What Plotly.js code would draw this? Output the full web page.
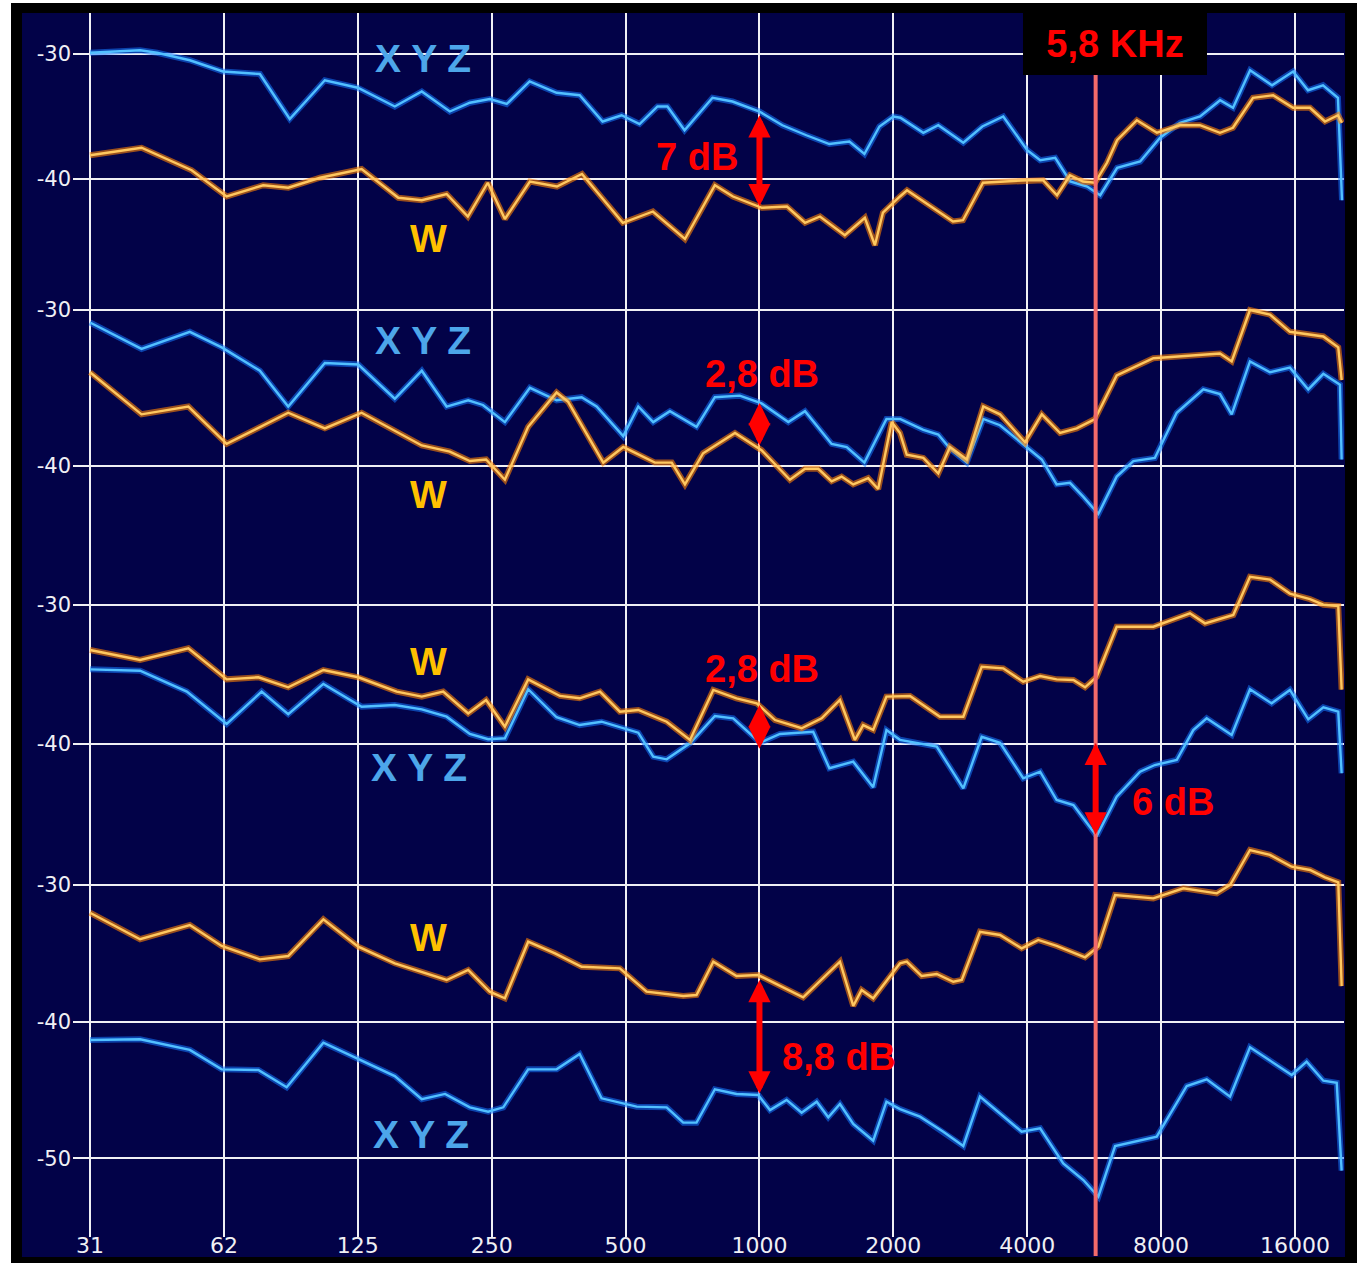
<!DOCTYPE html>
<html><head><meta charset="utf-8">
<script src="https://cdn.plot.ly/plotly-3.0.1.min.js"></script>
<style>html,body{margin:0;padding:0;background:#fff;}#chart{width:1361px;height:1264px;}</style>
</head><body><div id="chart"></div>
<script>
// ---------- DATA (frequency in Hz, level in dB) ----------
// Panel 1
const freqXYZ1 = [31.25,40.5,44.2,52.4,62.2,75.3,87.9,105.4,125,151.4,174.1,201.3,223.3,247.5,270.2,304.3,349.9,394.2,444,489.8,537.6,590,621,678.6,784.3,869.7,1000,1126,1275,1436,1593,1722,1861,2000,2074,2336,2524,2873,3170,3533,4000,4278,4624,4996,5456,5836,6372,7177,7959,8827,9787,10857,11609,12680,14208,15840,17114,18496,19984,20405];
const dbXYZ1 = [-29.9,-29.7,-29.9,-30.5,-31.4,-31.6,-35.2,-32.1,-32.7,-34.2,-33.0,-34.6,-33.9,-33.6,-34.0,-32.2,-33.1,-33.3,-35.4,-34.9,-35.6,-34.2,-34.2,-36.1,-33.5,-33.8,-34.6,-35.7,-36.5,-37.2,-37.0,-38.0,-35.8,-35.0,-35.1,-36.3,-35.7,-37.1,-35.8,-35.0,-37.7,-38.5,-38.3,-40.2,-40.6,-41.3,-39.1,-38.6,-36.7,-35.5,-35.0,-33.7,-34.3,-31.3,-32.5,-31.4,-32.9,-32.5,-33.5,-41.7];
const freqW1 = [31.25,40.8,52.9,63.4,76.6,87.2,102.8,127.5,154.2,174.1,198,221,245,267.7,304.7,350.5,399,493,576,680,794,872,1013,1153,1266,1368,1556,1726,1818,1895,2070,2147,2724,2868,3181,4000,4341,4667,4991,5339,5680,6045,6369,7057,7829,8820,9780,10850,11602,12873,14283,15840,17291,18686,19984,20405];
const dbW1 = [-38.1,-37.5,-39.3,-41.4,-40.5,-40.7,-39.9,-39.2,-41.5,-41.7,-41.2,-43.0,-40.3,-43.2,-40.2,-40.6,-39.6,-43.5,-42.6,-44.8,-40.5,-41.4,-42.3,-42.2,-43.5,-43.0,-44.5,-43.1,-45.3,-42.7,-41.4,-40.9,-43.4,-43.3,-40.3,-40.1,-40.1,-41.3,-39.7,-40.2,-40.3,-38.7,-36.9,-35.3,-36.3,-35.7,-35.7,-36.3,-35.9,-33.5,-33.3,-34.3,-34.3,-35.4,-34.9,-35.5];
// Panel 2
const freqXYZ2 = [31.25,40.8,52.4,61.8,75.3,87.2,105.4,125.3,151.4,174.1,198,221.4,238.9,267.7,304.7,349.9,398.3,430.4,494,534,577,629,722,794,903,1011,1161,1266,1453,1571,1722,1930,2070,2336,2524,2682,2925,3186,3474,3990,4313,4658,4991,5349,5780,6356,6928,7743,8673,9953,10850,11528,12672,14056,15584,17136,18528,20192,20368];
const dbXYZ2 = [-30.8,-32.5,-31.4,-32.4,-33.9,-36.2,-33.4,-33.5,-35.7,-33.9,-36.2,-35.8,-36.1,-37.2,-35.0,-35.8,-35.6,-36.2,-38.1,-36.2,-37.2,-36.5,-37.5,-35.6,-35.5,-36.0,-37.2,-36.5,-38.6,-38.8,-39.8,-37.0,-37.0,-37.7,-38.0,-38.9,-39.8,-37.0,-37.4,-38.8,-39.6,-41.2,-41.1,-42.0,-43.1,-40.7,-39.7,-39.5,-36.6,-35.1,-35.4,-36.7,-33.3,-34.0,-33.7,-35.1,-34.1,-34.8,-39.6];
const freqW2 = [31.25,40.8,52.0,63.4,87.2,105.4,127.5,174.1,201.3,223.3,242.9,267.7,302,349.9,371.5,445.5,494,582,635,680,747,881,1011,1171,1266,1356,1453,1530,1625,1756,1849,1983,2070,2144,2336,2524,2682,2925,3186,3474,3954,4313,4741,5167,5680,6356,7685,10850,11528,12672,14056,15584,18528,20016,20368];
const dbW2 = [-34.0,-36.7,-36.2,-38.6,-36.6,-37.6,-36.6,-38.7,-39.1,-39.7,-39.6,-40.9,-37.5,-35.3,-35.9,-39.8,-38.8,-39.8,-39.8,-41.2,-39.2,-37.9,-39.0,-40.9,-40.2,-40.2,-41.0,-40.7,-41.2,-40.8,-41.5,-37.2,-37.9,-39.3,-39.5,-40.5,-38.8,-39.6,-36.2,-36.7,-38.5,-36.7,-37.9,-37.6,-37.0,-34.2,-33.1,-32.8,-33.3,-30.0,-30.3,-31.4,-31.7,-32.4,-34.5];
// Panel 3
const freqW3 = [31.25,40.5,52.0,63.4,74.7,87.2,104.6,125.3,152.9,174.1,194.5,221.4,242.9,267.7,302,356,394.2,438,485.5,534,618.5,698,787.5,888,986,1084,1244,1380,1517,1639,1711,1802,1930,2070,2180,2546,2873,3160,3533,3918,4276,4658,5080,5396,5732,6356,7685,9288,10040,11624,12672,14056,15584,17291,18528,20016,20368];
const dbW3 = [-33.25,-33.97,-33.13,-35.36,-35.21,-35.93,-34.69,-35.21,-36.24,-36.6,-36.24,-37.8,-36.84,-38.76,-35.36,-36.55,-36.72,-36.24,-37.68,-37.56,-38.4,-39.71,-36.12,-36.72,-37.08,-38.28,-38.87,-38.16,-36.84,-39.71,-38.64,-38.99,-36.6,-36.55,-36.55,-38.04,-38.04,-34.45,-34.57,-35.53,-35.12,-35.36,-35.41,-35.93,-35.17,-31.58,-31.58,-30.62,-31.34,-30.74,-28.0,-28.2,-29.2,-29.6,-30.0,-30.1,-36.1];
const freqXYZ3 = [31.25,40.5,51.6,63.4,76.0,87.2,104.6,127.5,151.4,174.1,198,223.3,245.5,267.7,302,349.9,394.2,441.6,534,577,618.5,698,794,873,1003,1112,1321,1436,1625,1802,1930,2070,2504,2873,3160,3474,3918,4276,4658,5080,5732,6356,7173,7743,8673,9449,10128,11528,12672,14176,15584,17136,18528,20016,20368];
const dbXYZ3 = [-34.64,-34.74,-36.24,-38.56,-36.24,-37.85,-35.69,-37.32,-37.2,-37.51,-38.04,-39.28,-39.66,-39.59,-36.07,-38.08,-38.64,-38.4,-39.19,-40.91,-41.1,-39.95,-37.99,-38.16,-39.91,-39.28,-39.12,-41.74,-41.27,-43.11,-39.0,-39.7,-40.19,-43.18,-39.48,-39.91,-42.46,-41.99,-44.02,-44.38,-46.61,-43.78,-41.99,-41.51,-41.15,-39.0,-38.16,-39.35,-36.07,-37.08,-36.12,-38.23,-37.37,-37.68,-42.1];
// Panel 4
const freqW4 = [31.25,40.5,52.4,61.8,75.3,87.2,104.6,125.3,151.4,198,221.4,247.5,267.7,302,347,398.3,485.5,557.5,674,722,787.5,888,993.5,1254,1517,1625,1697,1802,2070,2144,2316,2504,2728,2850,3132,3474,3886,4236,4658,5396,5780,6304,7685,8976,10672,11432,12672,14056,15728,17291,18686,20016,20368];
const dbW4 = [-32.03,-33.97,-32.93,-34.46,-35.44,-35.2,-32.51,-34.51,-35.73,-36.95,-36.22,-37.81,-38.29,-34.15,-35.0,-35.98,-36.1,-37.81,-38.12,-38.05,-35.61,-36.66,-36.59,-38.22,-35.61,-38.85,-37.68,-38.29,-35.73,-35.61,-36.66,-36.51,-37.08,-36.95,-33.42,-33.66,-34.63,-34.02,-34.46,-35.29,-34.51,-30.73,-30.98,-30.24,-30.61,-30.0,-27.44,-27.8,-28.66,-28.9,-29.44,-29.8,-37.4];
const freqXYZ4 = [31.25,40.5,52.4,61.8,74.7,86.5,104.6,124.3,151.4,174.1,196.4,223.3,245.5,265.5,302,349.9,394.2,441.6,529.5,618.5,674,722,794,888,993.5,1056,1151,1244,1345,1428,1517,1625,1802,1930,2070,2296,2590,2873,3132,3886,4276,4820,5349,5780,6304,7820,9136,10128,11432,12672,15728,16992,18528,19856,20368];
const dbXYZ4 = [-41.34,-41.29,-42.07,-43.49,-43.54,-44.8,-41.54,-42.68,-43.98,-45.68,-45.29,-46.27,-46.59,-46.27,-43.49,-43.49,-42.37,-45.61,-46.22,-46.27,-47.39,-47.39,-44.95,-45.29,-45.37,-46.47,-45.73,-46.66,-45.86,-47.0,-46.03,-47.49,-48.71,-45.86,-46.4,-46.95,-48.05,-49.1,-45.49,-48.05,-47.8,-50.37,-51.59,-52.81,-49.1,-48.42,-44.71,-44.22,-45.49,-41.88,-43.9,-42.93,-44.32,-44.47,-50.9];

const tickFreqs = [31.25,62.5,125,250,500,1000,2000,4000,8000,16000];
const tickLabels = ['31','62','125','250','500','1000','2000','4000','8000','16000'];
const yTicks = [[-30,-40],[-30,-40],[-30,-40],[-30,-40,-50]];
const markerFreq = 5700;
const markerLabel = '5,8 KHz';
const seriesNames = ['X Y Z','W'];
// dB-difference markers: [panel, frequency, upper dB, lower dB]
const diffMarks = [[1,1000,-34.9,-42.3],[2,1000,-35.97,-38.8],[3,1000,-37.2,-40.45],[3,5700,-39.92,-46.6],[4,1000,-36.95,-45.37]];
const diffLabels = ['7 dB','2,8 dB','2,8 dB','6 dB','8,8 dB'];

// ---------- LAYOUT GEOMETRY ----------
const W=1361,H=1264,ML=73,MR=17,MT=13,MB=27;
const plotW=W-ML-MR, plotH=H-MT-MB;
const PX_PER_OCT=133.89, PX_31=90, LOG2=Math.log10(2);
const xr=[Math.log10(31.25)+LOG2*(ML-PX_31)/PX_PER_OCT, Math.log10(31.25)+LOG2*(W-MR-PX_31)/PX_PER_OCT];
const px2p = px => (px-ML)/plotW;
const py2p = py => (H-MB-py)/plotH;
const f2p = f => (Math.log10(f)-xr[0])/(xr[1]-xr[0]);
const panelGeo=[{top:13,bottom:257,py30:54,ppd:12.5},{top:257,bottom:557,py30:310,ppd:15.57},{top:557,bottom:837,py30:604.7,ppd:13.93},{top:837,bottom:1237,py30:885,ppd:13.665}];

const BLUE='#52c0ff', BLUE_GLOW='rgba(20,120,255,0.55)', ORANGE='#ffc860', ORANGE_GLOW='rgba(255,130,0,0.6)';
const LBL_BLUE='#4da6ea', LBL_W='#ffc000', RED='#ff0000';
const GRID='#f0f0f4';

const series=[[freqXYZ1,dbXYZ1,freqW1,dbW1],[freqXYZ2,dbXYZ2,freqW2,dbW2],[freqXYZ3,dbXYZ3,freqW3,dbW3],[freqXYZ4,dbXYZ4,freqW4,dbW4]];
const traces=[];
series.forEach((s,i)=>{
  const ya='y'+(i?i+1:'');
  [[s[0],s[1],BLUE_GLOW,BLUE],[s[2],s[3],ORANGE_GLOW,ORANGE]].forEach(t=>{
    traces.push({x:t[0],y:t[1],xaxis:'x',yaxis:ya,type:'scatter',mode:'lines',line:{color:t[2],width:6},hoverinfo:'skip',showlegend:false});
    traces.push({x:t[0],y:t[1],xaxis:'x',yaxis:ya,type:'scatter',mode:'lines',line:{color:t[3],width:2.4},hoverinfo:'skip',showlegend:false});
  });
});

const tickFont={family:'DejaVu Sans, sans-serif',size:21,color:'#f0f0f4'};
const layout={
  width:W,height:H,margin:{l:ML,r:MR,t:MT,b:MB,pad:0},
  paper_bgcolor:'#ffffff',plot_bgcolor:'rgba(0,0,0,0)',showlegend:false,
  xaxis:{type:'log',range:xr,anchor:'y4',tickvals:tickFreqs,ticktext:tickLabels,showgrid:true,gridcolor:GRID,gridwidth:2,zeroline:false,showline:false,ticks:'',tickfont:{family:'DejaVu Sans, sans-serif',size:22,color:'#f0f0f4'},ticklabelstandoff:-7},
  shapes:[
    {type:'rect',xref:'paper',yref:'paper',x0:px2p(11),x1:px2p(1357),y0:py2p(1263),y1:py2p(3),fillcolor:'#000000',line:{width:0},layer:'below'},
    {type:'rect',xref:'paper',yref:'paper',x0:px2p(22),x1:px2p(1345),y0:py2p(1257),y1:py2p(13),fillcolor:'#020248',line:{width:0},layer:'below'},
    {type:'line',xref:'paper',yref:'paper',x0:f2p(markerFreq),x1:f2p(markerFreq),y0:py2p(1256),y1:py2p(13),line:{color:'#f26a6a',width:4},layer:'above'}
  ],
  annotations:[]
};
panelGeo.forEach((g,i)=>{
  const name='yaxis'+(i?i+1:'');
  layout[name]={anchor:'x',domain:[py2p(g.bottom),py2p(g.top)],range:[-30-(g.bottom-g.py30)/g.ppd,-30+(g.py30-g.top)/g.ppd],
    tickvals:yTicks[i],ticktext:yTicks[i].map(v=>String(v)),showgrid:true,gridcolor:GRID,gridwidth:2,zeroline:false,showline:false,ticks:'',tickfont:tickFont,ticklabelstandoff:1,fixedrange:true};
});

const lblFont=(c,s)=>({family:'Liberation Sans, Arial, sans-serif',size:s,color:c});
function txt(t,px,py,c,s){return {xref:'paper',yref:'paper',x:px2p(px),y:py2p(py),xanchor:'center',yanchor:'middle',text:'<b>'+t+'</b>',showarrow:false,font:lblFont(c,s)};}
// series labels
[[423,59,428,238],[423,340,428,494],[419,767,428,661],[421,1134,428,937]].forEach(p=>{
  layout.annotations.push(txt(seriesNames[0],p[0],p[1],LBL_BLUE,39));
  layout.annotations.push(txt(seriesNames[1],p[2],p[3],LBL_W,39));
});
// difference arrows
diffMarks.forEach(d=>{
  const ya='y'+(d[0]>1?d[0]:'');
  layout.annotations.push({xref:'x',yref:ya,axref:'x',ayref:ya,x:Math.log10(d[1]),y:d[2],ax:Math.log10(d[1]),ay:d[3],text:'',showarrow:true,arrowhead:2,startarrowhead:2,arrowside:'end+start',arrowsize:0.74,startarrowsize:0.74,arrowwidth:6,arrowcolor:RED,standoff:0,startstandoff:0});
});
// difference labels
[[697,157],[762,374],[762,669],[1173,802],[839,1057]].forEach((p,i)=>{
  layout.annotations.push(txt(diffLabels[i],p[0],p[1],RED,38));
});
// frequency marker label
layout.annotations.push({xref:'paper',yref:'paper',x:px2p(1114.5),y:py2p(44),xanchor:'center',yanchor:'middle',text:'<b>'+markerLabel+'</b>',showarrow:false,bgcolor:'#000000',width:184,height:62,borderpad:0,borderwidth:0,font:lblFont(RED,38)});

Plotly.newPlot('chart',traces,layout,{staticPlot:true,displayModeBar:false});
</script></body></html>
